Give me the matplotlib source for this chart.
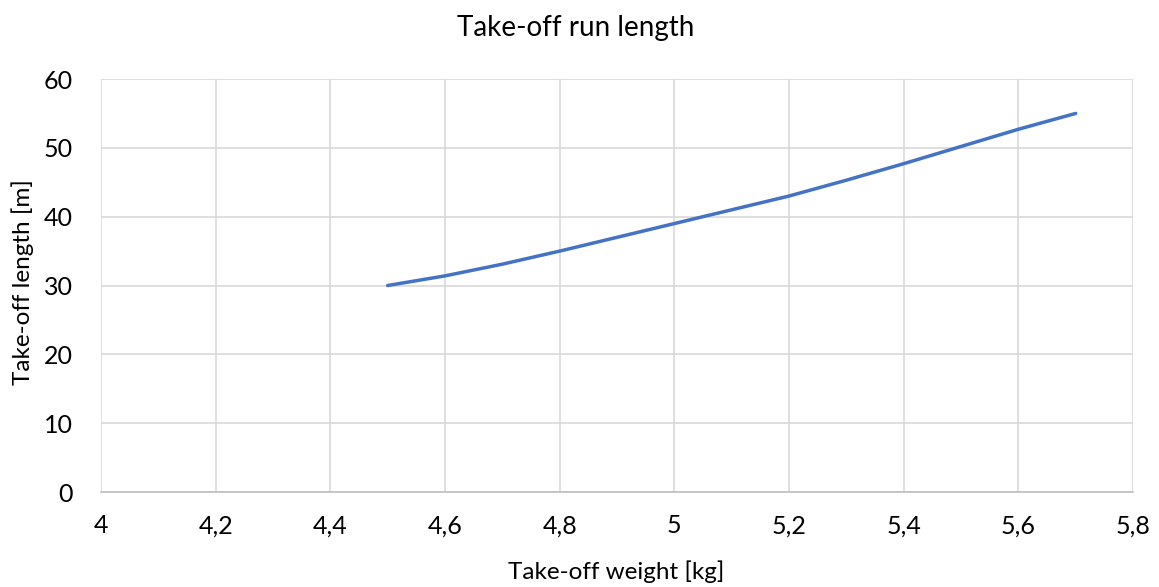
import matplotlib.pyplot as plt

weight = [4.5, 4.6, 4.7, 4.8, 4.9, 5.0, 5.1, 5.2, 5.3, 5.4, 5.5, 5.6, 5.7]
length = [30.0, 31.4, 33.1, 35.0, 37.0, 39.0, 41.0, 43.0, 45.3, 47.7, 50.2, 52.7, 55.0]

xticks = [4.0, 4.2, 4.4, 4.6, 4.8, 5.0, 5.2, 5.4, 5.6, 5.8]
xtick_labels = ['4', '4,2', '4,4', '4,6', '4,8', '5', '5,2', '5,4', '5,6', '5,8']
yticks = [0, 10, 20, 30, 40, 50, 60]

plt.rcParams['font.family'] = ['Lato', 'DejaVu Sans']

fig = plt.figure(figsize=(11.59, 5.87), dpi=100)
ax = fig.add_axes([0.0871, 0.1618, 0.8905, 0.7036])

ax.plot(weight, length, color='#4472c4', linewidth=2.5, solid_capstyle='round')

ax.set_xlim(4.0, 5.8)
ax.set_ylim(0, 60)
ax.set_xticks(xticks)
ax.set_xticklabels(xtick_labels)
ax.set_yticks(yticks)
ax.tick_params(axis='both', length=0, labelsize=18, colors='#000000')
ax.tick_params(axis='x', pad=16)
ax.tick_params(axis='y', pad=20)

ax.grid(True, color='#d9d9d9', linewidth=1.2)
ax.set_axisbelow(True)
for s in ['top', 'right', 'left']:
    ax.spines[s].set_visible(False)
ax.spines['bottom'].set_color('#bfbfbf')
ax.spines['bottom'].set_linewidth(1.2)

fig.text(0.497, 0.952, 'Take-off run length', ha='center', va='center', fontsize=20)
fig.text(0.532, 0.026, 'Take-off weight [kg]', ha='center', va='center', fontsize=17.5)
fig.text(0.02, 0.52, 'Take-off length [m]', ha='center', va='center', rotation=90, fontsize=17.5)

fig.savefig('out.png', dpi=100)
